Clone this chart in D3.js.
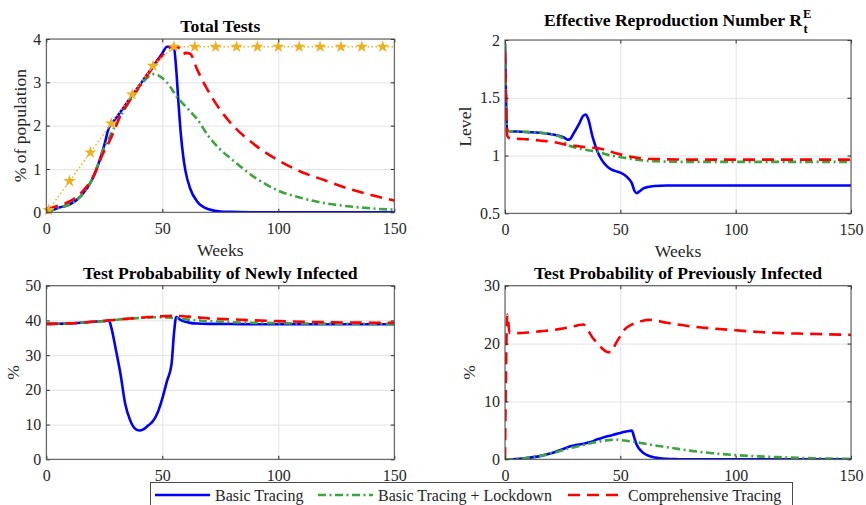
<!DOCTYPE html>
<html>
<head>
<meta charset="utf-8">
<script src="https://cdn.jsdelivr.net/npm/d3@7"></script>
<style>
  body { margin: 0; background: #fff; }
  svg { display: block; font-family: "Liberation Serif", "Times New Roman", serif; }
  svg text { font-family: "Liberation Serif", "Times New Roman", serif; }
</style>
</head>
<body>
<svg id="chart" width="866" height="505"></svg>
<script>
// series names + colours
var seriesNames = ["Basic Tracing", "Basic Tracing + Lockdown", "Comprehensive Tracing"];

// Total tests (% of population)
var ttWeeks = [0,1,2,5,10,15,20,25,27,28,30,32,34,36,38,40,42,44,46,48,50,52,54,55,56,57,58,59,60,62,65,70,75,80,90,100,110,120,130,140,150];
var ttBasic = [0,0.02,0.04,0.1,0.18,0.38,0.78,1.55,1.95,2.03,2.17,2.32,2.47,2.62,2.77,2.92,3.07,3.22,3.37,3.52,3.67,3.82,3.82,3.8,3.3,2.5,1.8,1.3,0.95,0.55,0.25,0.07,0.02,0.01,0,0,0,0,0,0,0];
var ttLockdown = [0,0.02,0.04,0.1,0.18,0.38,0.78,1.5,1.7,1.82,2.02,2.22,2.4,2.57,2.72,2.88,3.02,3.13,3.19,3.17,3.1,3.0,2.85,2.77,2.68,2.62,2.56,2.5,2.45,2.33,2.15,1.75,1.45,1.22,0.8,0.5,0.33,0.21,0.14,0.09,0.06];
var ttComprehensive = [0.08,0.09,0.1,0.15,0.25,0.45,0.8,1.42,1.62,1.73,1.98,2.25,2.43,2.58,2.74,2.9,3.05,3.2,3.35,3.5,3.62,3.74,3.82,3.82,3.82,3.8,3.74,3.65,3.68,3.66,3.3,2.78,2.36,2.03,1.55,1.2,0.93,0.74,0.55,0.4,0.27];
// testing capacity (dotted line with stars)
var capWeeks = [1,10,19,28,37,46,55,64,73,82,91,100,109,118,127,136,145,150];
var capValues = [0.05,0.72,1.38,2.05,2.72,3.38,3.82,3.82,3.82,3.82,3.82,3.82,3.82,3.82,3.82,3.82,3.82,3.82];

// Effective reproduction number
var rtWeeks = [0,1,2,5,10,15,20,25,26,27,28,30,32,34,35,36,38,40,42,44,46,48,50,52,54,55,56,57,58,60,62,65,70,80,100,125,150];
var rtBasic = [1.97,1.22,1.21,1.208,1.203,1.197,1.185,1.16,1.15,1.138,1.14,1.2,1.27,1.345,1.355,1.32,1.16,1.04,0.96,0.91,0.88,0.865,0.852,0.83,0.79,0.76,0.7,0.675,0.685,0.715,0.728,0.736,0.74,0.74,0.74,0.74,0.74];
var rtLockdown = [1.97,1.22,1.21,1.208,1.203,1.197,1.185,1.15,1.11,1.095,1.085,1.072,1.062,1.053,1.05,1.046,1.04,1.032,1.022,1.01,1.0,0.993,0.987,0.98,0.974,0.97,0.967,0.964,0.962,0.958,0.954,0.95,0.947,0.945,0.945,0.945,0.945];
var rtComprehensive = [1.9,1.17,1.15,1.145,1.14,1.13,1.12,1.1,1.095,1.092,1.09,1.085,1.08,1.075,1.072,1.07,1.068,1.064,1.056,1.045,1.033,1.02,1.01,1.0,0.992,0.988,0.985,0.982,0.979,0.975,0.972,0.97,0.967,0.965,0.965,0.965,0.965];

// Test probability of newly infected (%)
var newWeeks = [0,5,10,15,20,25,27,28,30,32,34,36,38,40,42,44,46,48,50,52,54,55,56,57,58,60,62,65,70,80,90,100,110,120,130,140,150];
var newBasic = [39,39.05,39.15,39.35,39.6,39.85,40,38,31.5,24.5,16,11.5,9,8.3,8.7,9.8,11,13.5,17.5,22.5,27.5,36,41,40.6,40.1,39.6,39.3,39.1,39,38.95,38.9,38.9,38.9,38.9,38.9,38.9,38.9];
var newLockdown = [39,39.05,39.15,39.35,39.6,39.85,40,40.05,40.2,40.3,40.4,40.5,40.6,40.7,40.78,40.85,40.9,40.93,40.9,40.85,40.78,40.7,40.65,40.58,40.5,40.3,40.2,40.0,39.8,39.5,39.3,39.2,39.12,39.08,39.05,39.02,39.0];
var newComprehensive = [39,39.05,39.15,39.35,39.6,39.85,40,40.05,40.2,40.3,40.45,40.55,40.65,40.75,40.85,40.95,41.05,41.12,41.2,41.25,41.3,41.32,41.32,41.3,41.28,41.15,41.05,40.9,40.6,40.3,40.0,39.8,39.6,39.5,39.4,39.35,39.3];

// Test probability of previously infected (%)
var prevWeeks = [0,1,2,5,10,15,20,25,28,30,32,34,36,38,40,42,44,46,48,50,52,54,55,56,57,58,60,62,65,70,75,80,90,100,110,120,130,140,150];
var prevBasic = [0,0,0,0.05,0.25,0.55,1.05,1.75,2.2,2.4,2.55,2.7,2.9,3.1,3.45,3.7,3.92,4.12,4.35,4.55,4.75,4.9,4.95,3.8,2.6,1.9,1.1,0.65,0.3,0.08,0.02,0,0,0,0,0,0,0,0];
var prevLockdown = [0,0,0,0.05,0.25,0.55,1.0,1.55,1.95,2.1,2.3,2.5,2.68,2.85,3.0,3.15,3.27,3.35,3.38,3.33,3.24,3.12,3.06,3.0,2.94,2.88,2.75,2.62,2.4,2.1,1.8,1.5,1.05,0.72,0.5,0.35,0.22,0.14,0.09];
var prevComprehensive = [0,25,21.8,21.8,21.9,22.1,22.3,22.6,22.85,23.0,23.2,23.3,22.3,21.0,20.1,19.2,18.6,18.5,20.0,21.3,22.5,23.1,23.3,23.5,23.65,23.8,23.95,24.1,24.0,23.6,23.3,23.0,22.6,22.3,22.0,21.8,21.7,21.6,21.5];

var xTicks = [0, 50, 100, 150];

var colors = ["#0000ff", "#3da53d", "#ff0000"];
var dashes = [null, "8,3.5,2,3.5", "12,7"];
var capColor = "#EDB120";
var axisColor = "#262626";
var serif = '"Liberation Serif", "Times New Roman", serif';

var svg = d3.select("#chart");
svg.append("rect").attr("width", 866).attr("height", 505).attr("fill", "#fff");

var panels = [
  { id: "p1", title: "Total Tests", ylabel: "% of population", xlabel: "Weeks",
    left: 46.3, right: 394.3, top: 39, bottom: 212.3, ydom: [0, 4], yticks: [0,1,2,3,4],
    weeks: ttWeeks, series: [ttBasic, ttLockdown, ttComprehensive], cap: true, ylabX: 20 },
  { id: "p2", title: "Effective Reproduction Number R", ylabel: "Level", xlabel: "Weeks",
    left: 505, right: 851, top: 40, bottom: 213.3, ydom: [0.5, 2], yticks: [0.5,1,1.5,2],
    weeks: rtWeeks, series: [rtBasic, rtLockdown, rtComprehensive], rt: true, ylabX: 464.7 },
  { id: "p3", title: "Test Probabability of Newly Infected", ylabel: "%",
    left: 46.3, right: 394.3, top: 285.7, bottom: 459.3, ydom: [0, 50], yticks: [0,10,20,30,40,50],
    weeks: newWeeks, series: [newBasic, newLockdown, newComprehensive], ylabX: 12.5 },
  { id: "p4", title: "Test Probability of Previously Infected", ylabel: "%",
    left: 505, right: 851, top: 285.7, bottom: 459.3, ydom: [0, 30], yticks: [0,10,20,30],
    weeks: prevWeeks, series: [prevBasic, prevLockdown, prevComprehensive], ylabX: 468.8 }
];

var defs = svg.append("defs");

panels.forEach(function(p) {
  var x = d3.scaleLinear().domain([0, 150]).range([p.left, p.right]);
  var y = d3.scaleLinear().domain(p.ydom).range([p.bottom, p.top]);
  var w = p.right - p.left, h = p.bottom - p.top;
  var g = svg.append("g");

  // grid
  g.append("g").attr("transform", "translate(0," + p.bottom + ")")
    .call(d3.axisBottom(x).tickValues(xTicks).tickSize(-h).tickFormat(""))
    .call(function(s) { s.select(".domain").remove(); s.selectAll("line").attr("stroke", "#e3e3e3"); });
  g.append("g").attr("transform", "translate(" + p.left + ",0)")
    .call(d3.axisLeft(y).tickValues(p.yticks).tickSize(-w).tickFormat(""))
    .call(function(s) { s.select(".domain").remove(); s.selectAll("line").attr("stroke", "#e3e3e3"); });

  // clip
  defs.append("clipPath").attr("id", "clip-" + p.id)
    .append("rect").attr("x", p.left).attr("y", p.top).attr("width", w).attr("height", h);

  var lines = g.append("g").attr("clip-path", "url(#clip-" + p.id + ")");
  p.series.forEach(function(vals, i) {
    var line = d3.line()
      .x(function(d, k) { return x(p.weeks[k]); })
      .y(function(d) { return y(d); })
      .curve(d3.curveMonotoneX);
    lines.append("path")
      .datum(vals)
      .attr("d", line)
      .attr("fill", "none")
      .attr("stroke", colors[i])
      .attr("stroke-width", 2.6)
      .attr("stroke-dasharray", dashes[i]);
  });

  if (p.cap) {
    var capLine = d3.line()
      .x(function(d, k) { return x(capWeeks[k]); })
      .y(function(d) { return y(d); });
    lines.append("path").datum(capValues)
      .attr("d", capLine).attr("fill", "none")
      .attr("stroke", capColor).attr("stroke-width", 1.5)
      .attr("stroke-dasharray", "1.5,2.5");
    var star = d3.symbol().type(d3.symbolStar).size(48);
    g.append("g").selectAll("path")
      .data(capValues.slice(0, capValues.length - 1))
      .enter().append("path")
      .attr("d", star)
      .attr("transform", function(d, k) { return "translate(" + x(capWeeks[k]) + "," + y(d) + ")"; })
      .attr("fill", capColor);
  }

  // axes, ticks inward on all four sides
  g.append("g").attr("transform", "translate(0," + p.bottom + ")")
    .call(d3.axisBottom(x).tickValues(xTicks).tickSize(-3.5).tickSizeOuter(0).tickPadding(10))
    .call(styleAxis);
  g.append("g").attr("transform", "translate(0," + p.top + ")")
    .call(d3.axisTop(x).tickValues(xTicks).tickSize(-3.5).tickSizeOuter(0).tickFormat(""))
    .call(styleAxis);
  g.append("g").attr("transform", "translate(" + p.left + ",0)")
    .call(d3.axisLeft(y).tickValues(p.yticks).tickSize(-3.5).tickSizeOuter(0).tickPadding(5).tickFormat(d3.format("~g")))
    .call(styleAxis);
  g.append("g").attr("transform", "translate(" + p.right + ",0)")
    .call(d3.axisRight(y).tickValues(p.yticks).tickSize(-3.5).tickSizeOuter(0).tickFormat(""))
    .call(styleAxis);

  function styleAxis(s) {
    s.attr("font-family", serif).attr("font-size", 16);
    s.select(".domain").remove();
    s.selectAll("line").attr("stroke", axisColor);
    s.selectAll("text").attr("fill", axisColor);
  }

  g.append("rect")
    .attr("x", p.left).attr("y", p.top).attr("width", w).attr("height", h)
    .attr("fill", "none").attr("stroke", "#4a4a4a").attr("stroke-width", 1);

  // title
  var cx = (p.left + p.right) / 2;
  if (p.rt) {
    var tg = g.append("g");
    var main = tg.append("text")
      .attr("y", p.top - 14)
      .style("font-size", "17.6px").style("font-weight", "bold")
      .attr("fill", "#000").text(p.title);
    var tw = main.node().getComputedTextLength();
    var x0 = cx - (tw + 10) / 2;
    main.attr("x", x0);
    tg.append("text").attr("x", x0 + tw + 1).attr("y", p.top - 22)
      .style("font-size", "12.5px").style("font-weight", "bold").text("E");
    tg.append("text").attr("x", x0 + tw + 1.5).attr("y", p.top - 7)
      .style("font-size", "12.5px").style("font-weight", "bold").text("t");
  } else {
    g.append("text")
      .attr("x", cx).attr("y", p.top - 7)
      .attr("text-anchor", "middle")
      .style("font-size", "17.6px").style("font-weight", "bold")
      .attr("fill", "#000").text(p.title);
  }

  // axis labels
  if (p.xlabel) {
    g.append("text").attr("x", cx).attr("y", p.bottom + 44)
      .attr("text-anchor", "middle").style("font-size", "17.6px")
      .attr("fill", axisColor).text(p.xlabel);
  }
  g.append("text")
    .attr("transform", "translate(" + p.ylabX + "," + ((p.top + p.bottom) / 2) + ") rotate(-90)")
    .attr("dy", "0.35em")
    .attr("text-anchor", "middle").style("font-size", "17.6px")
    .attr("fill", axisColor).text(p.ylabel);
});

// legend
var legend = svg.append("g");
legend.append("rect")
  .attr("x", 150.5).attr("y", 482.5).attr("width", 642).attr("height", 30)
  .attr("fill", "#fff").attr("stroke", "#4a4a4a").attr("stroke-width", 1);
var legendX = [155, 318, 568];
seriesNames.forEach(function(name, i) {
  legend.append("line")
    .attr("x1", legendX[i]).attr("x2", legendX[i] + 55)
    .attr("y1", 495).attr("y2", 495)
    .attr("stroke", colors[i]).attr("stroke-width", 2.6)
    .attr("stroke-dasharray", dashes[i]);
  legend.append("text")
    .attr("x", legendX[i] + 60).attr("y", 501)
    .style("font-size", "16px").attr("fill", axisColor)
    .text(name);
});
</script>
</body>
</html>
